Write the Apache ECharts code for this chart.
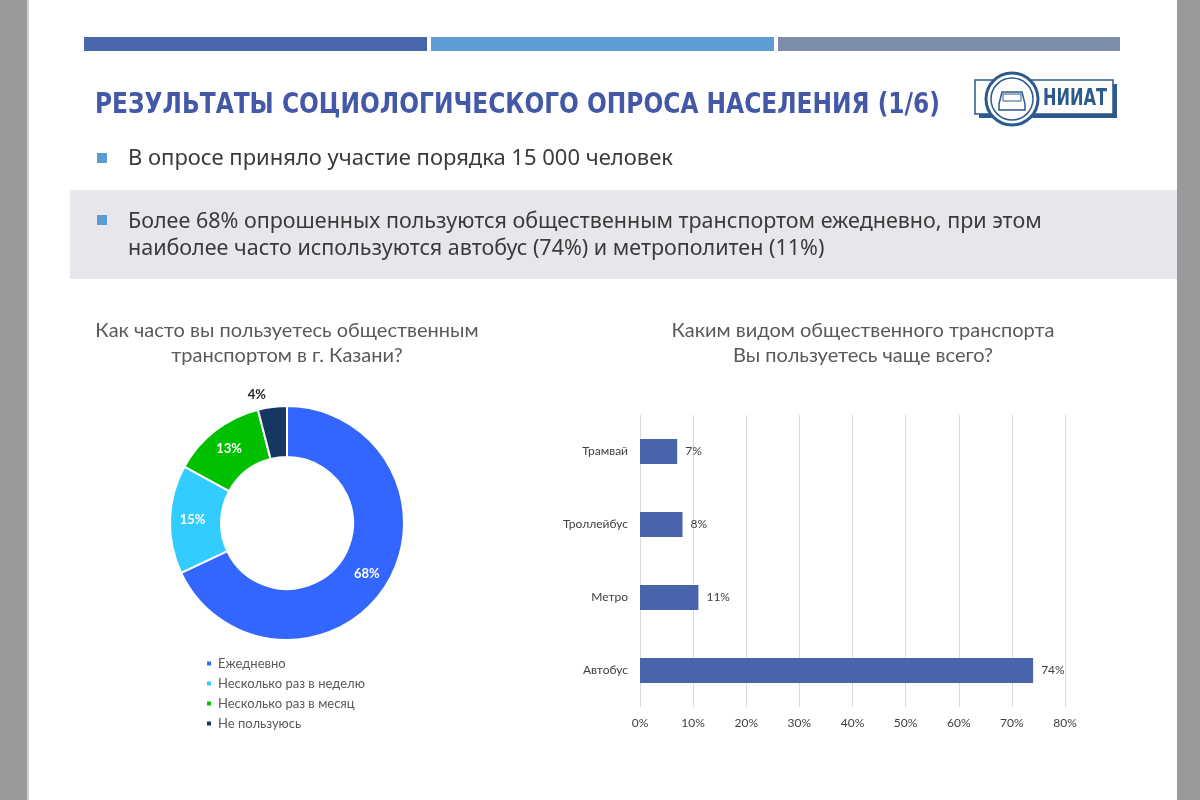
<!DOCTYPE html>
<html><head><meta charset="utf-8">
<script src="https://cdn.jsdelivr.net/npm/echarts@6/dist/echarts.min.js"></script>
<style>html,body{margin:0;padding:0;background:#fff}#c{width:1200px;height:800px}</style>
</head><body><div id="c"></div>
<script>
// ---- data ----
const freqCategories = ['Ежедневно', 'Несколько раз в неделю', 'Несколько раз в месяц', 'Не пользуюсь'];
const freqValues = [68, 15, 13, 4];
const freqColors = ['#3366ff', '#33ccff', '#00c000', '#16375f'];

const modeCategories = ['Трамвай', 'Троллейбус', 'Метро', 'Автобус'];
const modeValues = [7, 8, 11, 74];

const xTickLabels = ['0%', '10%', '20%', '30%', '40%', '50%', '60%', '70%', '80%'];

const slideTitle = 'РЕЗУЛЬТАТЫ СОЦИОЛОГИЧЕСКОГО ОПРОСА НАСЕЛЕНИЯ (1/6)';
const bullet1 = 'В опросе приняло участие порядка 15 000 человек';
const bullet2a = 'Более 68% опрошенных пользуются общественным транспортом ежедневно, при этом';
const bullet2b = 'наиболее часто используются автобус (74%) и метрополитен (11%)';
const leftTitle = 'Как часто вы пользуетесь общественным\nтранспортом в г. Казани?';
const rightTitle = 'Каким видом общественного транспорта\nВы пользуетесь чаще всего?';

const chart = echarts.init(document.getElementById('c'), null, {renderer: 'canvas'});
const bodyFont = '"Noto Sans", "Open Sans", sans-serif';
const chartFont = 'Lato, "Noto Sans", sans-serif';
const condFont = '"Liberation Sans Narrow", "DejaVu Sans Condensed", sans-serif';
const logoBlue = '#2c5a8c';

chart.setOption({
  backgroundColor: '#ffffff',
  animation: false,
  textStyle: {fontFamily: chartFont},
  graphic: [
    // side gray panels
    {type: 'rect', shape: {x: 0, y: 0, width: 27, height: 800}, style: {fill: '#9a9a9a'}, z: 0},
    {type: 'rect', shape: {x: 27, y: 0, width: 2, height: 800}, style: {fill: '#cfcfcf'}, z: 0},
    {type: 'rect', shape: {x: 1177, y: 0, width: 23, height: 800}, style: {fill: '#9a9a9a'}, z: 0},
    // top bars
    {type: 'rect', shape: {x: 84, y: 37, width: 343, height: 14}, style: {fill: '#4a66ad'}},
    {type: 'rect', shape: {x: 431, y: 37, width: 343, height: 14}, style: {fill: '#5e9dd3'}},
    {type: 'rect', shape: {x: 778, y: 37, width: 342, height: 14}, style: {fill: '#7f8ea8'}},
    // title
    {type: 'text', x: 95, y: 92, scaleX: 0.926, style: {text: slideTitle, fill: '#4358a6', font: 'bold 28px ' + condFont}},
    // logo
    {type: 'rect', shape: {x: 979, y: 84, width: 138, height: 34}, style: {fill: logoBlue}},
    {type: 'rect', shape: {x: 975, y: 80, width: 138, height: 34}, style: {fill: '#ffffff', stroke: logoBlue, lineWidth: 1.5}},
    {type: 'circle', shape: {cx: 1012, cy: 99, r: 26}, style: {fill: '#ffffff', stroke: logoBlue, lineWidth: 3}},
    {type: 'circle', shape: {cx: 1012, cy: 99, r: 21}, style: {fill: '#ffffff', stroke: logoBlue, lineWidth: 1.5}},
    {type: 'polygon', shape: {points: [[999, 104], [1002, 92], [1022, 92], [1025, 104], [1025, 110], [999, 110]]},
      style: {fill: 'none', stroke: logoBlue, lineWidth: 1.5}},
    {type: 'rect', shape: {x: 1003, y: 94, width: 18, height: 7}, style: {fill: 'none', stroke: logoBlue, lineWidth: 1}},
    {type: 'text', x: 1043, y: 88, scaleX: 0.78, style: {text: 'НИИАТ', fill: logoBlue, font: 'bold 23px ' + condFont}},
    // bullet 1
    {type: 'rect', shape: {x: 97, y: 153, width: 10, height: 10}, style: {fill: '#5b9bd5'}},
    {type: 'text', x: 128, y: 148, style: {text: bullet1, fill: '#3a3a3a', font: '22px ' + bodyFont}},
    // gray band
    {type: 'rect', shape: {x: 70, y: 190, width: 1107, height: 89}, style: {fill: '#e8e6ea'}, z: 0},
    {type: 'rect', shape: {x: 97, y: 215, width: 10, height: 10}, style: {fill: '#5b9bd5'}},
    {type: 'text', x: 128, y: 211, style: {text: bullet2a, fill: '#3a3a3a', font: '21.5px ' + bodyFont}},
    {type: 'text', x: 128, y: 238, style: {text: bullet2b, fill: '#3a3a3a', font: '21.5px ' + bodyFont}}
  ],
  title: [
    {text: leftTitle, left: 282, top: 313, textAlign: 'center',
      textStyle: {fontSize: 20, fontWeight: 'normal', color: '#595959', fontFamily: chartFont, lineHeight: 25}},
    {text: rightTitle, left: 858, top: 313, textAlign: 'center',
      textStyle: {fontSize: 20, fontWeight: 'normal', color: '#595959', fontFamily: chartFont, lineHeight: 25}}
  ],
  legend: {
    orient: 'vertical', left: 200, top: 652, itemGap: 7,
    itemWidth: 6, itemHeight: 6, icon: 'rect',
    data: freqCategories,
    textStyle: {fontSize: 13, color: '#595959', fontFamily: chartFont, padding: [0, 0, 0, 1]}
  },
  grid: {left: 640, top: 415, width: 425, height: 292, containLabel: false},
  xAxis: {
    type: 'value', min: 0, max: 80, interval: 10,
    axisLine: {show: false}, axisTick: {show: false},
    splitLine: {lineStyle: {color: '#d9d9d9', width: 1}},
    axisLabel: {color: '#404040', fontSize: 12, margin: 10, fontFamily: chartFont,
      formatter: function (v) { return xTickLabels[Math.round(v / 10)]; }}
  },
  yAxis: {
    type: 'category', data: modeCategories, inverse: true,
    axisLine: {show: false}, axisTick: {show: false},
    axisLabel: {color: '#404040', fontSize: 12, margin: 12, fontFamily: chartFont}
  },
  series: [
    {
      type: 'pie', center: [287, 523], radius: [66, 117],
      startAngle: 90, clockwise: true, avoidLabelOverlap: false,
      itemStyle: {borderColor: '#ffffff', borderWidth: 2},
      label: {position: 'inside', formatter: '{c}%', color: '#ffffff', fontWeight: 'bold', fontSize: 13, fontFamily: chartFont},
      labelLine: {show: false},
      data: freqCategories.map((n, i) => {
        const d = {name: n, value: freqValues[i], itemStyle: {color: freqColors[i]}};
        if (i === 3) {
          d.label = {position: 'outside', color: '#262626', fontWeight: 'bold', fontSize: 13};
          d.labelLine = {show: false, length: 12, length2: 0};
        }
        return d;
      })
    },
    {
      type: 'bar', data: modeValues, barWidth: 25,
      itemStyle: {color: '#4865ab'},
      label: {show: true, position: 'right', distance: 8, formatter: '{c}%', color: '#404040', fontSize: 12, fontFamily: chartFont}
    }
  ]
});
</script></body></html>
